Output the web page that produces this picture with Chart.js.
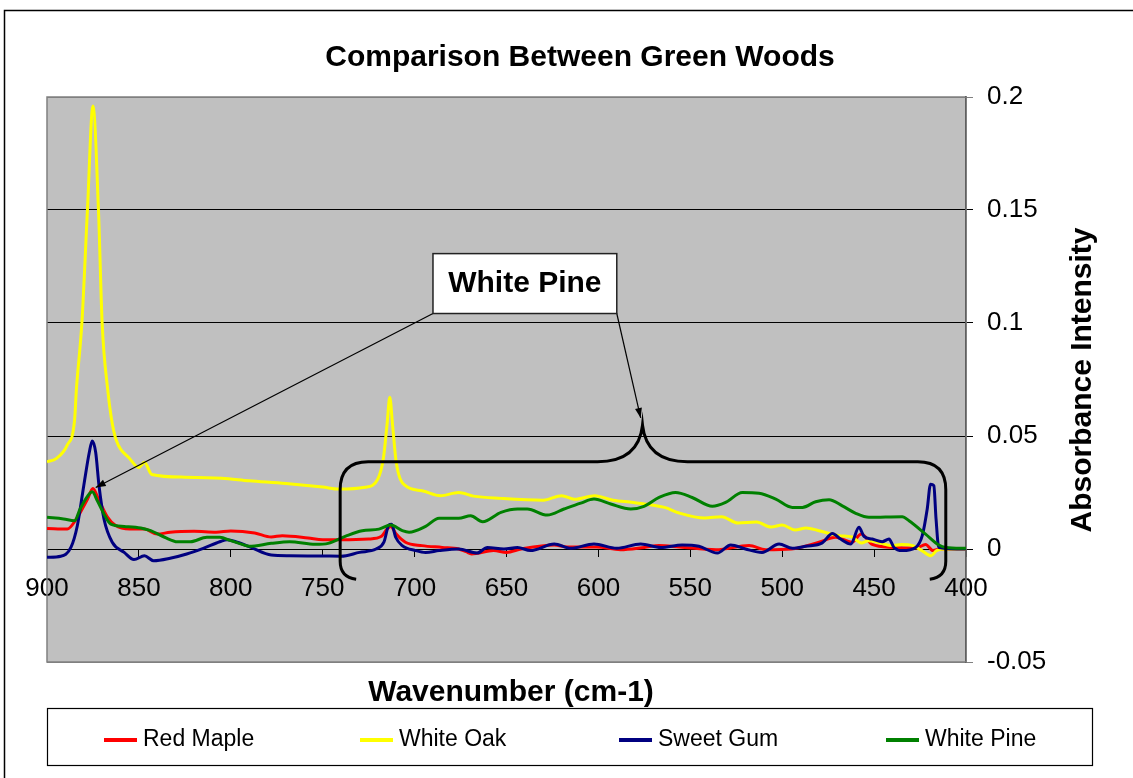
<!DOCTYPE html>
<html>
<head>
<meta charset="utf-8">
<title>Comparison Between Green Woods</title>
<script src="https://cdn.jsdelivr.net/npm/chart.js@4/dist/chart.umd.min.js"></script>
<style>
  html, body { margin: 0; padding: 0; background: #fff; }
  canvas { display: block; }
</style>
</head>
<body>
<canvas id="woodsChart" width="1133" height="778" role="img" aria-label="Comparison Between Green Woods"></canvas>
<script>
const chartTitle = "Comparison Between Green Woods";
const xAxisTitle = "Wavenumber (cm-1)";
const yAxisTitle = "Absorbance Intensity";
const calloutText = "White Pine";

const xTickValues = [900, 850, 800, 750, 700, 650, 600, 550, 500, 450, 400];
const yTickValues = [-0.05, 0, 0.05, 0.1, 0.15, 0.2];

const redMapleWn = [900, 889, 884, 878, 875, 872, 867, 863, 855, 847, 840, 833, 820, 808, 800, 787, 778, 772, 758, 750, 740, 725, 718, 715, 713, 710, 705, 696, 685, 676, 672, 669, 657, 650, 642, 624, 617, 601, 588, 575, 567, 556, 536, 518, 509, 495, 480, 471, 462, 457, 451, 440, 427, 422, 418, 414, 400];
const redMapleAbs = [0.0091, 0.0088, 0.0133, 0.022, 0.0268, 0.022, 0.014, 0.0106, 0.0088, 0.0088, 0.0066, 0.0074, 0.0078, 0.0074, 0.008, 0.0071, 0.0053, 0.0059, 0.0049, 0.0041, 0.0041, 0.0044, 0.0056, 0.0088, 0.01, 0.0066, 0.003, 0.0015, 0.0007, 0, -0.0012, -0.0022, -0.0007, -0.0015, 0, 0.0018, 0.0009, 0.0009, -0.0003, 0.0007, 0.0015, 0.0009, -0.0003, 0.0015, -0.0003, 0, 0.003, 0.0052, 0.003, 0.0066, 0.002, 0.0007, 0.0004, 0.002, -0.0007, 0, 0];

const whiteOakWn = [900, 895, 889, 885, 884, 881, 878, 875, 872, 870, 867, 865, 862.5, 855, 850, 847, 843, 825, 805, 790, 770, 750, 741, 727, 720, 717, 715, 713.5, 712, 710, 705, 696, 686, 676, 668, 653, 630, 620, 613, 602, 592, 581, 564, 556, 542, 533, 524, 514, 506, 500, 493, 487, 480, 469, 462, 457, 453, 440, 435, 429, 424, 419, 416, 410, 400];
const whiteOakAbs = [0.0386, 0.040, 0.046, 0.057, 0.0707, 0.1003, 0.150, 0.196, 0.150, 0.100, 0.0707, 0.058, 0.0486, 0.040, 0.036, 0.0384, 0.033, 0.0318, 0.0313, 0.0302, 0.029, 0.0274, 0.0265, 0.0273, 0.031, 0.040, 0.055, 0.0671, 0.055, 0.0384, 0.028, 0.0258, 0.0236, 0.025, 0.0234, 0.0224, 0.0216, 0.0236, 0.022, 0.0236, 0.0216, 0.0206, 0.0184, 0.0159, 0.0137, 0.0143, 0.0115, 0.0119, 0.0097, 0.0106, 0.0084, 0.0093, 0.0081, 0.0059, 0.0053, 0.0027, 0.0037, 0.0015, 0.002, 0.0015, -0.0007, -0.003, -0.0007, 0, 0];

const sweetGumWn = [900, 892.5, 887, 883.5, 880, 877, 875.4, 873.5, 871.7, 869, 864.5, 858, 852.7, 847, 842, 833, 824, 815, 806, 802, 796.5, 789, 778, 768, 750, 740, 730, 721, 716.7, 714, 712.5, 710.3, 706.7, 699.4, 694, 686.7, 676, 666, 660.4, 651.4, 644, 637, 624, 615, 602.4, 590, 577, 566, 554.4, 545.3, 535.3, 528, 520, 511, 501.7, 494.5, 487.2, 478.2, 472.7, 468.2, 462.7, 458.2, 455.5, 451, 445.6, 441.9, 439.2, 434.7, 427.4, 423.8, 421.1, 419.3, 417.5, 416.3, 414.8, 400];
const sweetGumAbs = [-0.0037, -0.0032, 0.0007, 0.0103, 0.028, 0.0427, 0.0478, 0.0427, 0.028, 0.0133, 0.003, -0.0015, -0.0047, -0.003, -0.0052, -0.0041, -0.0022, 0.0003, 0.0032, 0.0041, 0.003, 0.0007, -0.0027, -0.003, -0.0031, -0.0032, -0.0015, 0, 0.003, 0.0106, 0.011, 0.0052, 0.0015, -0.0007, -0.0015, -0.0007, 0, -0.0018, 0.0007, 0, 0.0007, -0.0007, 0.0022, 0.0003, 0.0022, 0.0003, 0.0022, 0.0007, 0.0018, 0.0012, -0.0018, 0.0018, 0, -0.0015, 0.0022, 0.0003, 0.0012, 0.0027, 0.0069, 0.0044, 0.0022, 0.0096, 0.0056, 0.0044, 0.0032, 0.0044, 0.0007, -0.0007, 0.0007, 0.0059, 0.0177, 0.0287, 0.028, 0.0133, 0.0007, 0];

const whitePineWn = [900, 891, 885, 882, 878, 875.4, 872.6, 869, 865.3, 858, 849, 843.6, 836, 829, 822, 813, 806, 800, 793, 790, 778, 768, 754, 747, 737.5, 728.5, 719.4, 713, 706.7, 703, 694, 686.7, 676, 669.5, 663, 653, 644, 638.7, 627.8, 618.7, 609.6, 602.4, 593.3, 582.4, 575.2, 567, 558, 549, 538, 530.8, 521.7, 512.6, 503.5, 494.5, 489, 481.8, 474.5, 467.3, 460, 452.8, 434.7, 431, 422, 414.8, 411, 400];
const whitePineAbs = [0.014, 0.0133, 0.0125, 0.0177, 0.0233, 0.0253, 0.0213, 0.0155, 0.011, 0.01, 0.0093, 0.0081, 0.0052, 0.0032, 0.0032, 0.0052, 0.0052, 0.0037, 0.0018, 0.0012, 0.0025, 0.0032, 0.0021, 0.0025, 0.0057, 0.0081, 0.0088, 0.0106, 0.0081, 0.0074, 0.01, 0.0136, 0.0136, 0.0147, 0.0121, 0.0162, 0.0177, 0.0177, 0.015, 0.0177, 0.0203, 0.0221, 0.0199, 0.0177, 0.0189, 0.0228, 0.025, 0.0228, 0.0189, 0.0206, 0.025, 0.0247, 0.0221, 0.0184, 0.0184, 0.0209, 0.0218, 0.0191, 0.0158, 0.014, 0.0143, 0.0125, 0.0066, 0.0018, 0.0007, 0.0003];

// callout + brace, given in data units (wavenumber, absorbance)
const calloutBox = { left: 690, right: 590, top: 0.1307, bottom: 0.1042 };
const calloutTips = [[873.5, 0.0272], [577, 0.058]];
const braceEnds = [740.5, 411];
const braceLevel = 0.0386;
const bracePeak = [576, 0.0548];
const braceFoot = -0.0125;

const FONT = "'Liberation Sans', Arial, sans-serif";

const toPoints = (xs, ys) => xs.map((x, i) => ({ x: x, y: ys[i] }));

const series = [
  { label: "Red Maple", color: "#FF0000", data: toPoints(redMapleWn, redMapleAbs) },
  { label: "White Oak", color: "#FFFF00", data: toPoints(whiteOakWn, whiteOakAbs) },
  { label: "Sweet Gum", color: "#000080", data: toPoints(sweetGumWn, sweetGumAbs) },
  { label: "White Pine", color: "#008000", data: toPoints(whitePineWn, whitePineAbs) },
];

const arrowHead = (ctx, x0, y0, x1, y1) => {
  const ang = Math.atan2(y1 - y0, x1 - x0);
  const len = 10, half = 3.5;
  ctx.beginPath();
  ctx.moveTo(x1, y1);
  ctx.lineTo(x1 - len * Math.cos(ang) + half * Math.sin(ang), y1 - len * Math.sin(ang) - half * Math.cos(ang));
  ctx.lineTo(x1 - len * Math.cos(ang) - half * Math.sin(ang), y1 - len * Math.sin(ang) + half * Math.cos(ang));
  ctx.closePath();
  ctx.fill();
};

const decorPlugin = {
  id: "decor",
  beforeDraw(chart) {
    const { ctx, chartArea: a, width, height } = chart;
    ctx.save();
    ctx.fillStyle = "#fff";
    ctx.fillRect(0, 0, width, height);
    // outer frame (runs off the right and bottom edges)
    ctx.strokeStyle = "#000";
    ctx.lineWidth = 1.5;
    ctx.strokeRect(4.5, 10.5, width + 20, height + 20);
    // plot area
    ctx.fillStyle = "#C0C0C0";
    ctx.fillRect(a.left, a.top, a.right - a.left, a.bottom - a.top);
    ctx.restore();
  },
  beforeDatasetsDraw(chart) {
    const { ctx, chartArea: a } = chart;
    ctx.save();
    ctx.strokeStyle = "#808080";
    ctx.lineWidth = 1.5;
    ctx.strokeRect(a.left, a.top, a.right - a.left, a.bottom - a.top);
    ctx.restore();
  },
  afterDatasetsDraw(chart) {
    const { ctx } = chart;
    const X = (v) => chart.scales.x.getPixelForValue(v);
    const Y = (v) => chart.scales.y.getPixelForValue(v);
    ctx.save();

    // brace under the callout
    const L = X(braceEnds[0]), R = X(braceEnds[1]), H = Y(braceLevel);
    const tx = X(bracePeak[0]), ty = Y(bracePeak[1]), B = Y(braceFoot);
    const r = 28;
    ctx.strokeStyle = "#000";
    ctx.lineWidth = 3;
    ctx.beginPath();
    ctx.moveTo(L + 16, B + 2);
    ctx.quadraticCurveTo(L, B, L, B - 16);
    ctx.lineTo(L, H + r);
    ctx.quadraticCurveTo(L, H, L + r, H);
    ctx.lineTo(tx - 45, H);
    ctx.quadraticCurveTo(tx - 4, H, tx, ty);
    ctx.quadraticCurveTo(tx + 4, H, tx + 45, H);
    ctx.lineTo(R - r, H);
    ctx.quadraticCurveTo(R, H, R, H + r);
    ctx.lineTo(R, B - 16);
    ctx.quadraticCurveTo(R, B, R - 16, B + 2);
    ctx.stroke();

    // callout arrows
    const bx0 = X(calloutBox.left), bx1 = X(calloutBox.right);
    const by0 = Y(calloutBox.top), by1 = Y(calloutBox.bottom);
    const starts = [[bx0, by1], [bx1, by1]];
    ctx.lineWidth = 1.2;
    ctx.fillStyle = "#000";
    calloutTips.forEach((tip, i) => {
      const [sx, sy] = starts[i];
      const ex = X(tip[0]), ey = Y(tip[1]);
      ctx.beginPath();
      ctx.moveTo(sx, sy);
      ctx.lineTo(ex, ey);
      ctx.stroke();
      arrowHead(ctx, sx, sy, ex, ey);
    });

    // callout box
    ctx.fillStyle = "#fff";
    ctx.fillRect(bx0, by0, bx1 - bx0, by1 - by0);
    ctx.strokeStyle = "#222";
    ctx.lineWidth = 1.5;
    ctx.strokeRect(bx0, by0, bx1 - bx0, by1 - by0);
    ctx.fillStyle = "#000";
    ctx.font = "bold 30px " + FONT;
    ctx.textAlign = "center";
    ctx.textBaseline = "middle";
    ctx.fillText(calloutText, (bx0 + bx1) / 2, (by0 + by1) / 2);
    ctx.restore();
  },
  afterDraw(chart) {
    const { ctx } = chart;
    ctx.save();
    ctx.fillStyle = "#000";
    ctx.textAlign = "center";
    ctx.textBaseline = "middle";
    ctx.font = "bold 30px " + FONT;
    ctx.fillText(chartTitle, 580, 58);
    ctx.fillText(xAxisTitle, 511, 693);
    ctx.translate(1083, 380);
    ctx.rotate(-Math.PI / 2);
    ctx.fillText(yAxisTitle, 0, 0);
    ctx.restore();

    // legend box
    ctx.save();
    ctx.strokeStyle = "#000";
    ctx.lineWidth = 1.2;
    ctx.fillStyle = "#fff";
    ctx.fillRect(47.5, 708.5, 1045, 57);
    ctx.strokeRect(47.5, 708.5, 1045, 57);
    const itemX = [104, 360, 619, 886];
    ctx.font = "23px " + FONT;
    ctx.textAlign = "left";
    ctx.textBaseline = "middle";
    chart.data.datasets.forEach((ds, i) => {
      ctx.strokeStyle = ds.borderColor;
      ctx.lineWidth = 4;
      ctx.beginPath();
      ctx.moveTo(itemX[i], 740);
      ctx.lineTo(itemX[i] + 33, 740);
      ctx.stroke();
      ctx.fillStyle = "#000";
      ctx.fillText(ds.label, itemX[i] + 39, 740);
    });
    ctx.restore();
  },
};

const ctx = document.getElementById("woodsChart").getContext("2d");

new Chart(ctx, {
  type: "line",
  data: {
    datasets: series.map((s, i) => ({
      label: s.label,
      data: s.data,
      borderColor: s.color,
      backgroundColor: s.color,
      borderWidth: 3,
      pointRadius: 0,
      fill: false,
      cubicInterpolationMode: "monotone",
      order: series.length - i,
    })),
  },
  options: {
    responsive: false,
    animation: false,
    devicePixelRatio: 1,
    layout: { padding: { left: 47, top: 97, right: 0, bottom: 116 } },
    plugins: {
      legend: { display: false },
      title: { display: false },
      tooltip: { enabled: false },
    },
    scales: {
      x: {
        type: "linear",
        reverse: true,
        min: 400,
        max: 900,
        position: { y: 0 },
        afterBuildTicks: (scale) => {
          scale.ticks = xTickValues.map((v) => ({ value: v }));
        },
        ticks: {
          color: "#000",
          font: { family: FONT, size: 26 },
          padding: 17,
          maxRotation: 0,
          autoSkip: false,
        },
        grid: {
          drawOnChartArea: false,
          drawTicks: true,
          tickLength: 7,
          color: "#000",
        },
        border: { display: true, color: "#000", width: 1 },
      },
      y: {
        position: "right",
        min: -0.05,
        max: 0.2,
        afterBuildTicks: (scale) => {
          scale.ticks = yTickValues.map((v) => ({ value: v }));
        },
        afterFit: (scale) => {
          scale.width = 167;
        },
        ticks: {
          color: "#000",
          font: { family: FONT, size: 26 },
          padding: 14,
          callback: (v) => String(Number(v.toFixed(2))),
        },
        grid: {
          color: (c) => (c.tick && (c.tick.value === 0.2 || c.tick.value === -0.05) ? "#808080" : "#000"),
          lineWidth: 1,
          tickLength: 7,
        },
        border: { display: true, color: "#000", width: 1.5 },
      },
    },
  },
  plugins: [decorPlugin],
});
</script>
</body>
</html>
